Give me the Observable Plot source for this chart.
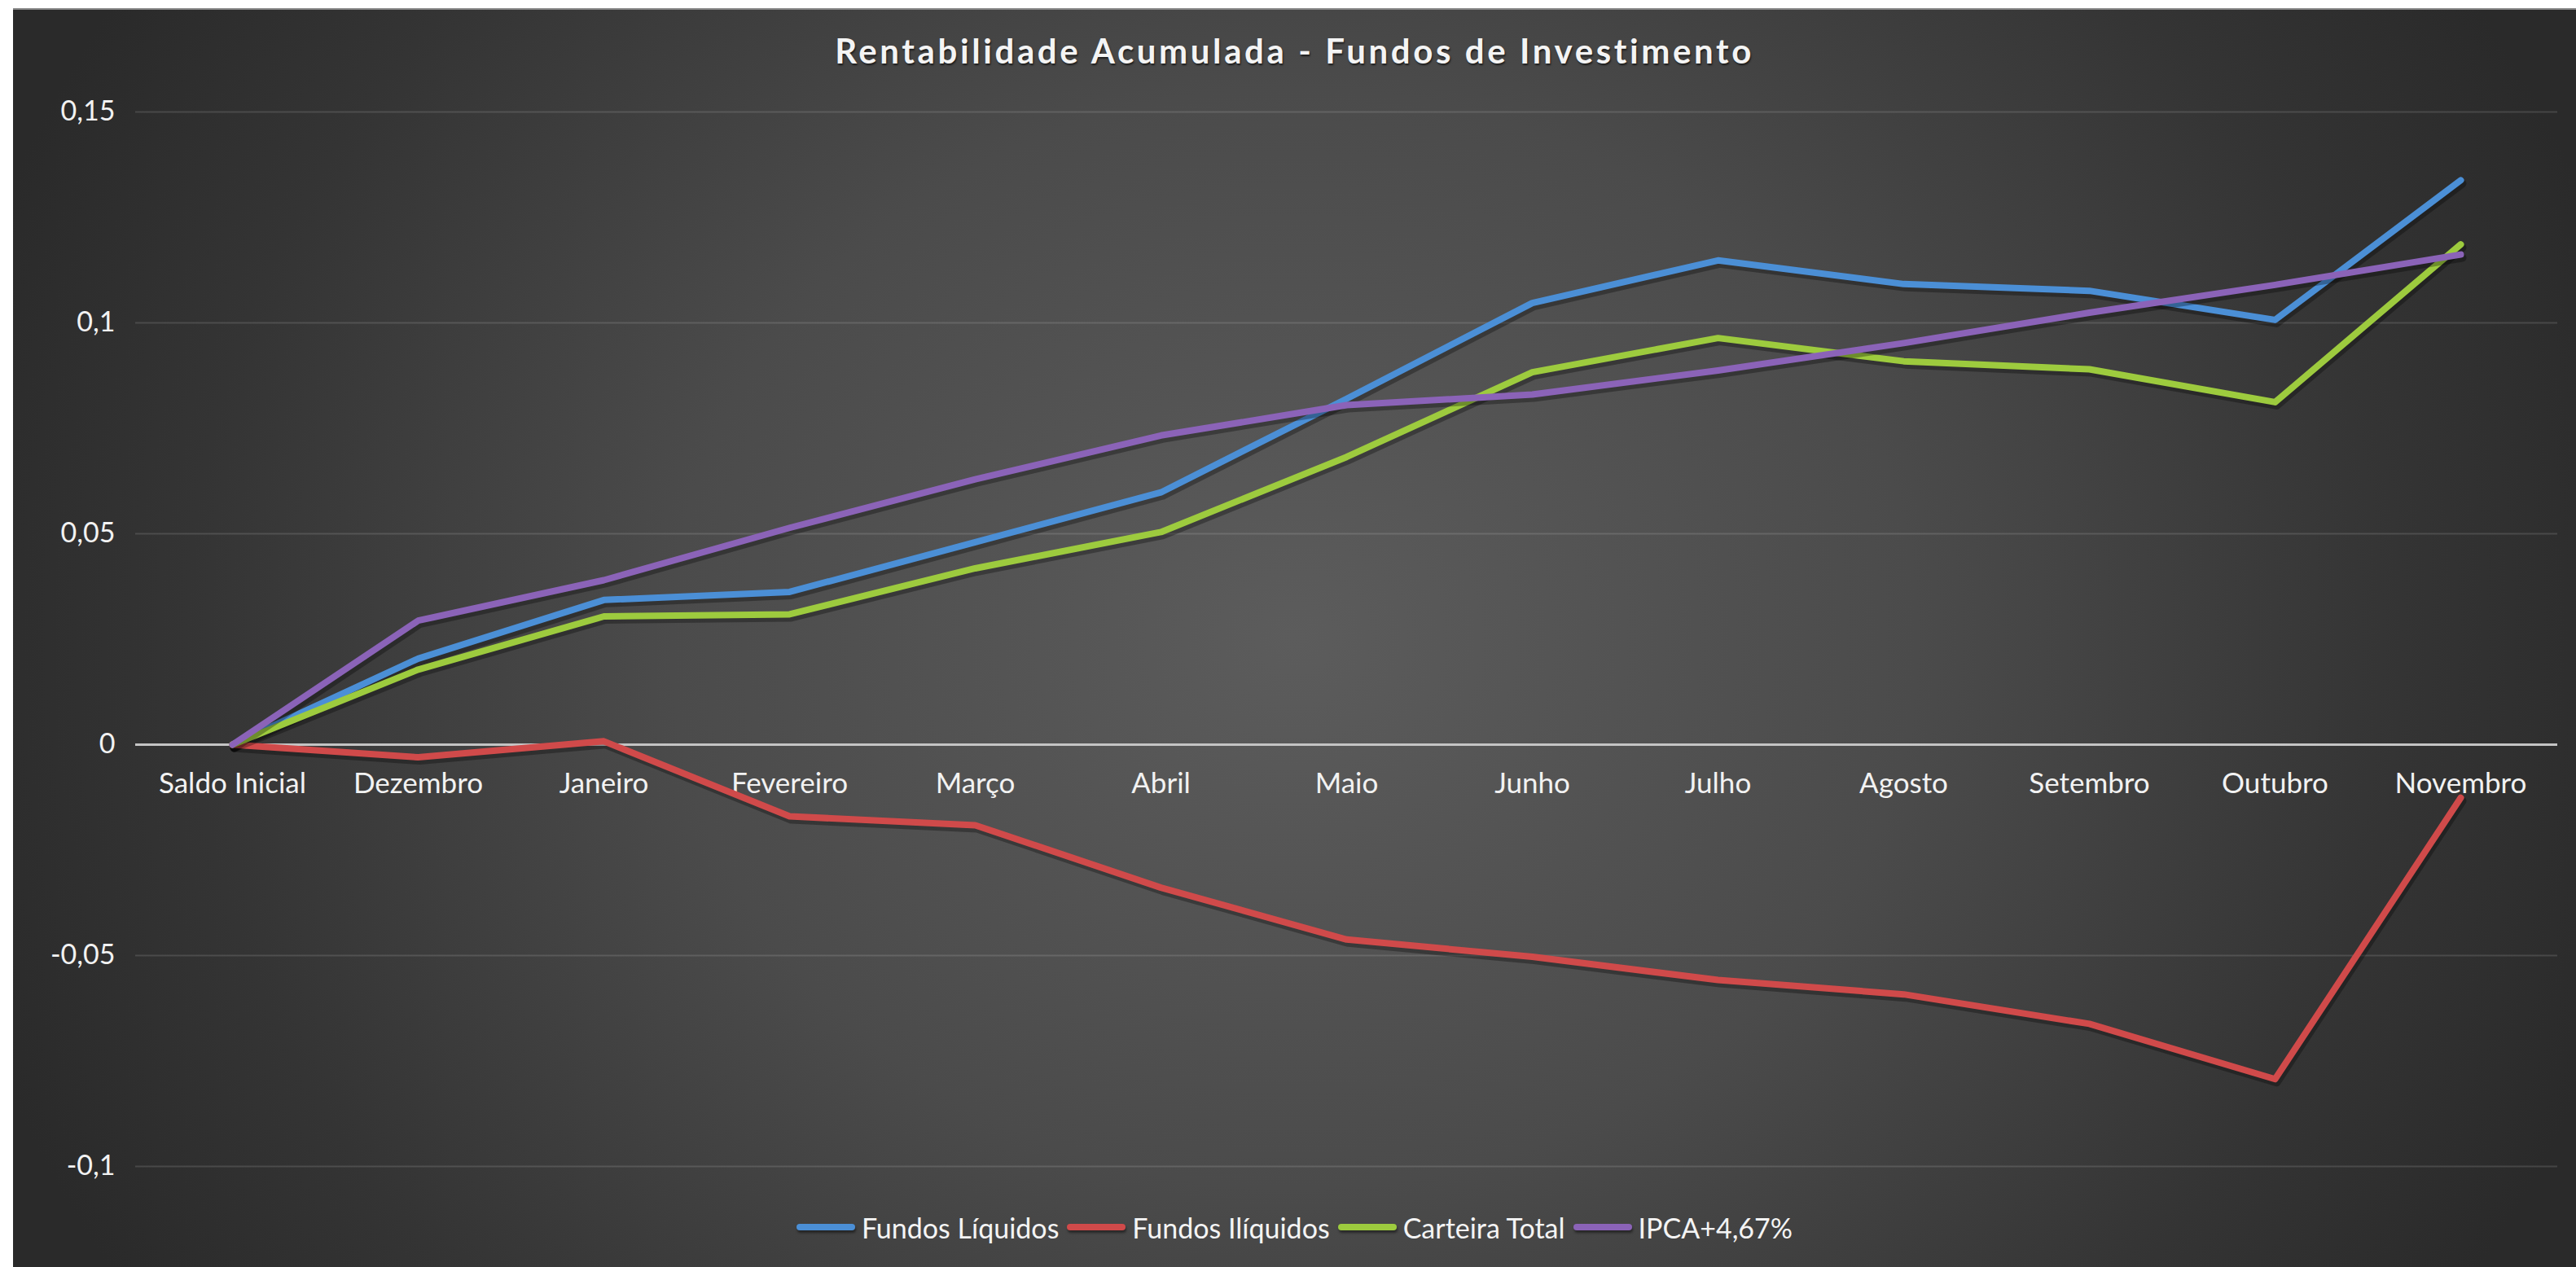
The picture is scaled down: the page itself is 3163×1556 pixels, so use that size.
<!DOCTYPE html>
<html>
<head>
<meta charset="utf-8">
<script src="https://cdn.jsdelivr.net/npm/d3@7"></script>
<script src="https://cdn.jsdelivr.net/npm/@observablehq/plot@0.6"></script>
<style>
  html, body { margin: 0; padding: 0; background: #ffffff; width: 3163px; height: 1556px; overflow: hidden; }
  #panel {
    position: absolute; left: 16px; top: 10px; width: 3147px; height: 1546px;
    background: radial-gradient(1700px 1500px at 50% 50%, #5c5c5c 0%, #4b4b4b 45%, #343434 80%, #2a2a2a 100%);
    border-top: 2px solid #8a8a8a; box-sizing: border-box;
  }
  #title {
    position: absolute; left: 16px; width: 3147px; top: 34px; text-align: center;
    font-family: Lato, "Open Sans", sans-serif; font-weight: 700; font-size: 42px; letter-spacing: 3.6px;
    color: #f4f4f4; line-height: 56px; text-shadow: 1px 2px 2px rgba(0,0,0,0.6);
  }
  #chart { position: absolute; left: 16px; top: 100px; }
  #legend {
    position: absolute; left: 16px; width: 3147px; top: 1485px; height: 44px;
    display: flex; justify-content: center; align-items: center; gap: 10px;
    font-family: Lato, "Open Sans", sans-serif; font-size: 34px; color: #f4f4f4;
  }
  .item { display: flex; align-items: center; gap: 8px; }
  .sw { width: 72px; height: 8px; border-radius: 4px; box-shadow: 1px 3px 3px rgba(0,0,0,0.45); }
</style>
</head>
<body>
<div id="panel"></div>
<div id="title"></div>
<div id="chart"></div>
<div id="legend"></div>
<script>
const titleText = "Rentabilidade Acumulada - Fundos de Investimento";
const categories = ["Saldo Inicial","Dezembro","Janeiro","Fevereiro","Março","Abril","Maio","Junho","Julho","Agosto","Setembro","Outubro","Novembro"];
const fundosLiquidos  = [0, 0.0204, 0.0343, 0.0362, 0.0480, 0.0598, 0.0820, 0.1047, 0.1148, 0.1092, 0.1076, 0.1007, 0.1338];
const fundosIliquidos = [0, -0.0030, 0.0008, -0.0170, -0.0191, -0.0339, -0.0462, -0.0503, -0.0558, -0.0592, -0.0662, -0.0793, -0.0126];
const carteiraTotal   = [0, 0.0178, 0.0304, 0.0309, 0.0418, 0.0504, 0.0682, 0.0883, 0.0964, 0.0909, 0.0890, 0.0812, 0.1186];
const ipca            = [0, 0.0294, 0.0390, 0.0514, 0.0629, 0.0733, 0.0805, 0.0830, 0.0887, 0.0952, 0.1024, 0.1090, 0.1162];
const seriesNames = ["Fundos Líquidos", "Fundos Ilíquidos", "Carteira Total", "IPCA+4,67%"];
const seriesColors = ["#4b8fd6", "#d04a4a", "#9dcb3e", "#8b63b8"];
const yTicks = [-0.1, -0.05, 0, 0.05, 0.1, 0.15];
const yTickLabels = ["-0,1", "-0,05", "0", "0,05", "0,1", "0,15"];

const seriesValues = [fundosLiquidos, fundosIliquidos, carteiraTotal, ipca];
const rows = seriesValues.map((vals, s) => vals.map((v, i) => ({cat: categories[i], value: v, series: seriesNames[s]})));

document.getElementById("title").textContent = titleText;

const fontFamily = "Lato, 'Open Sans', sans-serif";
const marks = [
  Plot.ruleY(yTicks, {stroke: "#ffffff", strokeOpacity: 0.13, strokeWidth: 2}),
  Plot.ruleY([0], {stroke: "#c4c4c4", strokeWidth: 3}),
  Plot.axisY(yTicks, {tickSize: 0, tickPadding: 25, label: null, tickFormat: d => yTickLabels[yTicks.indexOf(d)], fontSize: 34, fill: "#f2f2f2"}),
  Plot.text(categories, {x: d => d, y: d => 0, dy: 48, fontSize: 35, fill: "#f2f2f2"})
];
rows.forEach((r, s) => {
  marks.push(Plot.line(r, {x: "cat", y: "value", stroke: "#000000", strokeOpacity: 0.3, strokeWidth: 10, dx: 2, dy: 4, strokeLinejoin: "round", strokeLinecap: "round"}));
  marks.push(Plot.line(r, {x: "cat", y: "value", stroke: seriesColors[s], strokeWidth: 8, strokeLinejoin: "round", strokeLinecap: "round"}));
});

const chart = Plot.plot({
  width: 3147,
  height: 1380,
  marginLeft: 150,
  marginRight: 23,
  marginTop: 37,
  marginBottom: 48,
  style: {background: "transparent", fontFamily, fontSize: "34px", color: "#f2f2f2", overflow: "visible"},
  x: {type: "point", domain: categories, padding: 0.5, axis: null},
  y: {domain: [-0.1, 0.15], axis: null, label: null},
  marks
});
document.getElementById("chart").appendChild(chart);

const legend = document.getElementById("legend");
seriesNames.forEach((name, i) => {
  const item = document.createElement("div");
  item.className = "item";
  const sw = document.createElement("div");
  sw.className = "sw";
  sw.style.background = seriesColors[i];
  const label = document.createElement("span");
  label.textContent = name;
  item.appendChild(sw);
  item.appendChild(label);
  legend.appendChild(item);
});
</script>
</body>
</html>
